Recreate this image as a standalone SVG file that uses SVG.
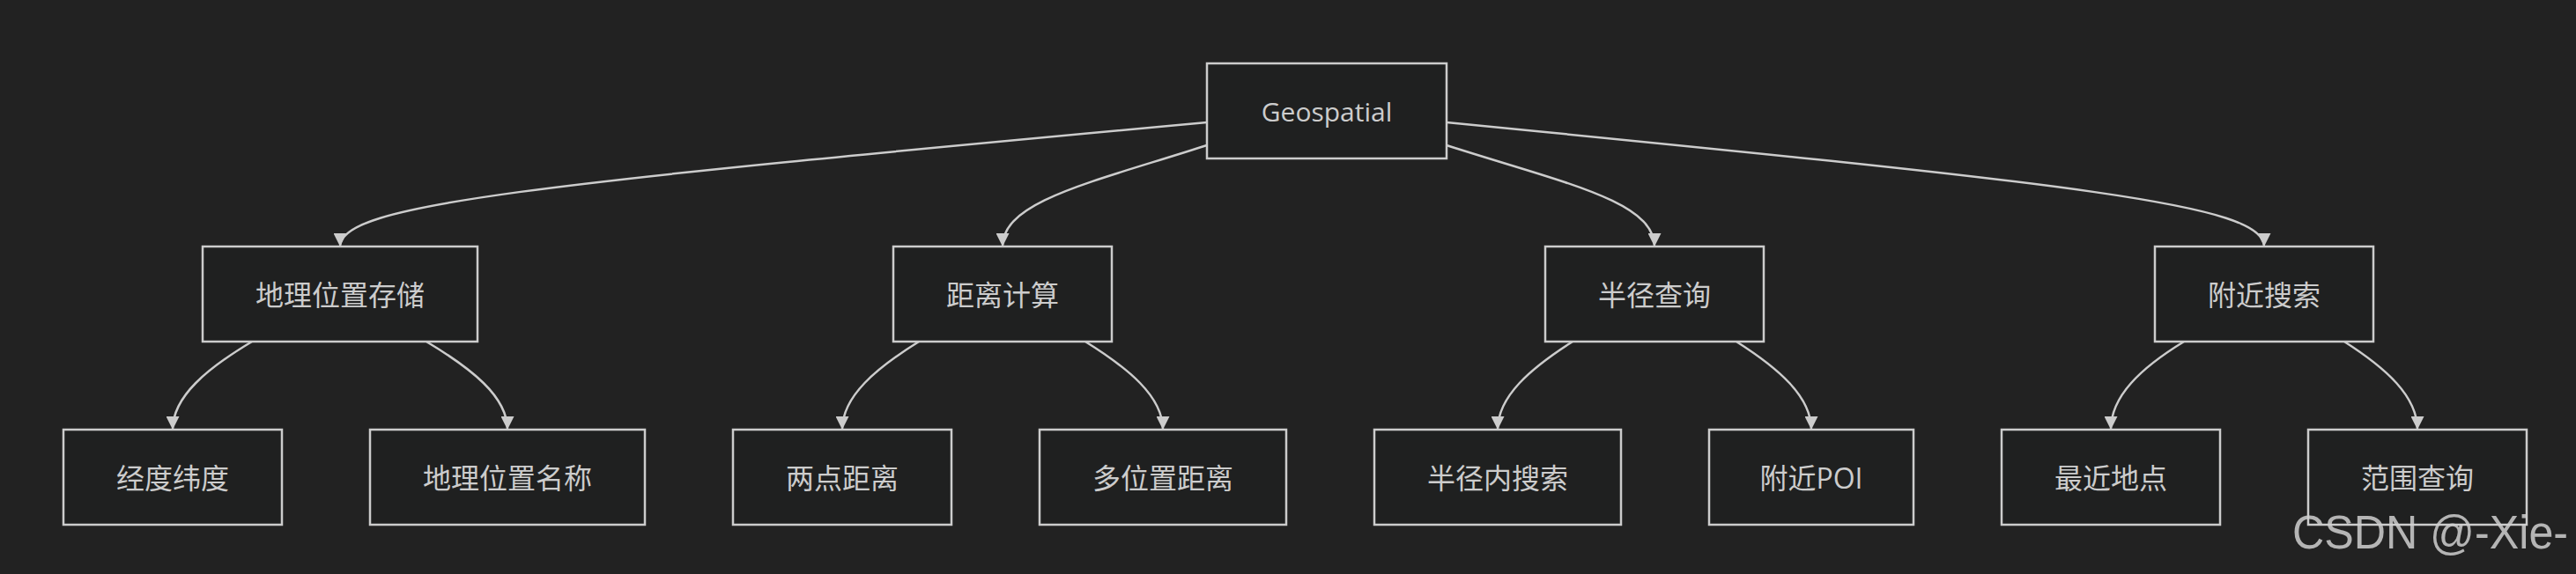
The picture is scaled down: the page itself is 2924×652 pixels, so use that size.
<svg xmlns="http://www.w3.org/2000/svg" width="2924" height="652" viewBox="0 0 2924 652">
<style>
.node rect{fill:#1f2020;stroke:#cccccc;stroke-width:2.5}
.node text{fill:#cccccc;font-family:"Open Sans","Noto Sans CJK SC",sans-serif;font-size:32px;text-anchor:middle;dominant-baseline:central}
.edges path{fill:none;stroke:#cccccc;stroke-width:2.5;marker-end:url(#arrow)}
.wm{fill:#cfcfcf;fill-opacity:0.85;font-family:"Liberation Sans",Arial,sans-serif;font-size:54px}
</style>
<defs>
<marker id="arrow" viewBox="0 0 16 16" refX="16" refY="8" markerUnits="userSpaceOnUse" markerWidth="16" markerHeight="15" orient="auto">
<path d="M0,0 L16,8 L0,16 z" fill="#cccccc"/>
</marker>
</defs>
<rect width="2924" height="652" fill="#222222"/>
<g class="edges">
<path d="M1370,139 C600,210 386,232 386,280"/>
<path d="M1370,165 C1240,207 1138,228 1138,280"/>
<path d="M1642,165 C1772,207 1878,228 1878,280"/>
<path d="M1642,139 C2366,210 2570,232 2570,280"/>
<path d="M286,388 C236,418 196,450 196,488"/>
<path d="M484,388 C534,418 576,450 576,488"/>
<path d="M1043,388 C995,418 956,450 956,488"/>
<path d="M1232,388 C1280,418 1320,450 1320,488"/>
<path d="M1785,388 C1738,418 1700,450 1700,488"/>
<path d="M1971,388 C2018,418 2056,450 2056,488"/>
<path d="M2479,388 C2430,418 2396,450 2396,488"/>
<path d="M2661,388 C2708,418 2744,450 2744,488"/>
</g>
<g id="root" class="node"><rect x="1370" y="72" width="272" height="108"/><text x="1506" y="126" style="font-size:30px">Geospatial</text></g>
<g id="storage" class="node"><rect x="230" y="280" width="312" height="108"/><text x="386" y="334">地理位置存储</text></g>
<g id="distance" class="node"><rect x="1014" y="280" width="248" height="108"/><text x="1138" y="334">距离计算</text></g>
<g id="radius" class="node"><rect x="1754" y="280" width="248" height="108"/><text x="1878" y="334">半径查询</text></g>
<g id="nearby" class="node"><rect x="2446" y="280" width="248" height="108"/><text x="2570" y="334">附近搜索</text></g>
<g id="lnglat" class="node"><rect x="72" y="488" width="248" height="108"/><text x="196" y="542">经度纬度</text></g>
<g id="locname" class="node"><rect x="420" y="488" width="312" height="108"/><text x="576" y="542">地理位置名称</text></g>
<g id="twopoint" class="node"><rect x="832" y="488" width="248" height="108"/><text x="956" y="542">两点距离</text></g>
<g id="multidist" class="node"><rect x="1180" y="488" width="280" height="108"/><text x="1320" y="542">多位置距离</text></g>
<g id="inradius" class="node"><rect x="1560" y="488" width="280" height="108"/><text x="1700" y="542">半径内搜索</text></g>
<g id="nearpoi" class="node"><rect x="1940" y="488" width="232" height="108"/><text x="2056" y="542">附近POI</text></g>
<g id="nearest" class="node"><rect x="2272" y="488" width="248" height="108"/><text x="2396" y="542">最近地点</text></g>
<g id="range" class="node"><rect x="2620" y="488" width="248" height="108"/><text x="2744" y="542">范围查询</text></g>
<text class="wm" x="2602" y="623" textLength="313" lengthAdjust="spacingAndGlyphs">CSDN @-Xie-</text>
</svg>
